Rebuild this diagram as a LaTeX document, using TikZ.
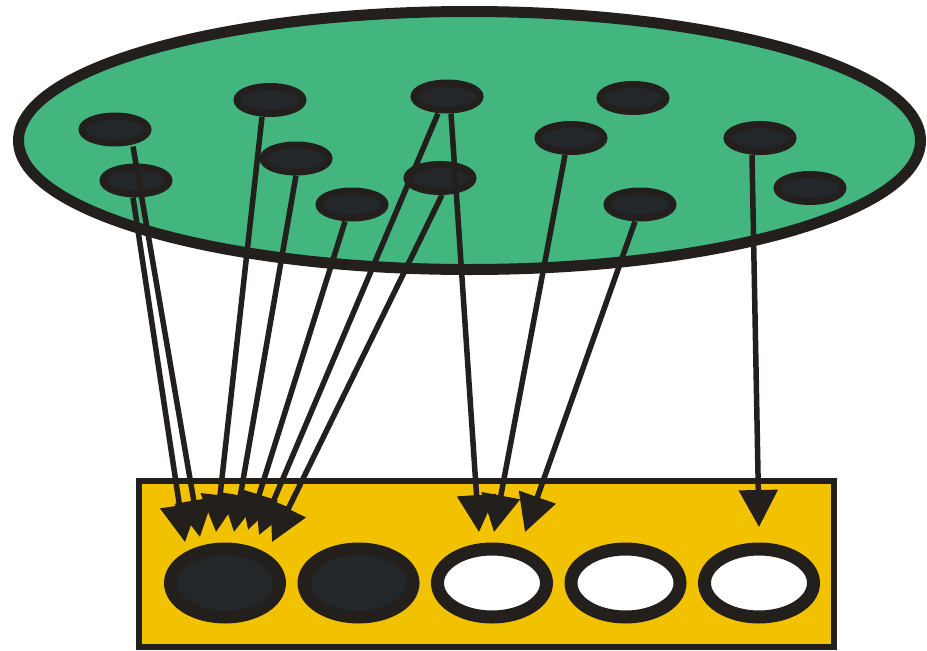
\documentclass[tikz,border=0pt]{standalone}
\usepackage{tikz}
\usetikzlibrary{arrows.meta,positioning,shapes.geometric}
\definecolor{ink}{RGB}{34,31,28}
\definecolor{dotfill}{RGB}{35,39,42}
\definecolor{poolgreen}{RGB}{67,182,128}
\definecolor{boxyellow}{RGB}{242,194,0}

\begin{document}
\begin{tikzpicture}[
    x=1pt, y=-1pt,
    >={Triangle[length=37pt,width=38pt]},
    pool/.style={
        ellipse,
        draw=ink,
        line width=11pt,
        fill=poolgreen,
        minimum width=902pt,
        minimum height=258pt
    },
    dot/.style={
        ellipse,
        draw=ink,
        line width=7pt,
        fill=dotfill,
        inner sep=0pt,
        minimum width=66pt,
        minimum height=27pt
    },
    slot/.style={
        ellipse,
        draw=ink,
        line width=13pt,
        inner sep=0pt,
        minimum width=109pt,
        minimum height=68pt
    },
    full_slot/.style={slot, fill=dotfill},
    empty_slot/.style={slot, fill=white},
    link/.style={->, draw=ink, fill=ink, line width=5.5pt}
]
\useasboundingbox (0,0) rectangle (927,651);

% Insieme sorgente
\node[pool] (pool) at (469.5,140.5) {};

\node[dot] (d1) at (115,129.5) {};
\node[dot] (d2) at (136,180.5) {};
\node[dot] (d3) at (270,100) {};
\node[dot] (d4) at (296,158.5) {};
\node[dot] (d5) at (352,204.5) {};
\node[dot] (d6) at (447,96.5) {};
\node[dot] (d7) at (440,178) {};
\node[dot] (d8) at (633,98) {};
\node[dot] (d9) at (571,138) {};
\node[dot] (d10) at (640,204.5) {};
\node[dot] (d11) at (760,138) {};
\node[dot] (d12) at (810,188) {};

% Contenitori
\node[draw=ink, line width=6pt, fill=boxyellow, inner sep=0pt,
      minimum width=695pt, minimum height=165.5pt] (box) at (486.5,563.75) {};

\node[full_slot] (e1) at (225,583) {};
\node[full_slot, right=11.5pt of e1] (e2) {};
\node[empty_slot, right=11.5pt of e2] (e3) {};
\node[empty_slot, right=11.5pt of e3] (e4) {};
\node[empty_slot, right=11.5pt of e4] (e5) {};

% Punte delle frecce
\coordinate (in1a) at (185,542);
\coordinate (in1b) at (200,537);
\coordinate (in1c) at (216,532);
\coordinate (in1d) at (234,532);
\coordinate (in1e) at (248,530);
\coordinate (in1f) at (259,535);
\coordinate (in1g) at (272,542);
\coordinate (in3a) at (479,532);
\coordinate (in3b) at (494,532);
\coordinate (in3c) at (525,532);
\coordinate (in5) at (759,527);

% Collegamenti
\draw[link] ([xshift=-3pt]d2.south) -- (in1a);
\draw[link] ([xshift=18pt]d1.south) -- (in1b);
\draw[link] ([xshift=-8pt]d3.south) -- (in1c);
\draw[link] (d4.south) -- (in1d);
\draw[link] ([xshift=-7pt]d5.south) -- (in1e);
\draw[link] ([xshift=-9pt]d6.south) -- (in1f);
\draw[link] ([xshift=2pt]d7.south) -- (in1g);

\draw[link] ([xshift=4pt]d6.south) -- (in3a);
\draw[link] ([xshift=-6pt]d9.south) -- (in3b);
\draw[link] ([xshift=-5pt]d10.south) -- (in3c);

\draw[link] ([xshift=-8pt]d11.south) -- (in5);

\end{tikzpicture}
\end{document}
